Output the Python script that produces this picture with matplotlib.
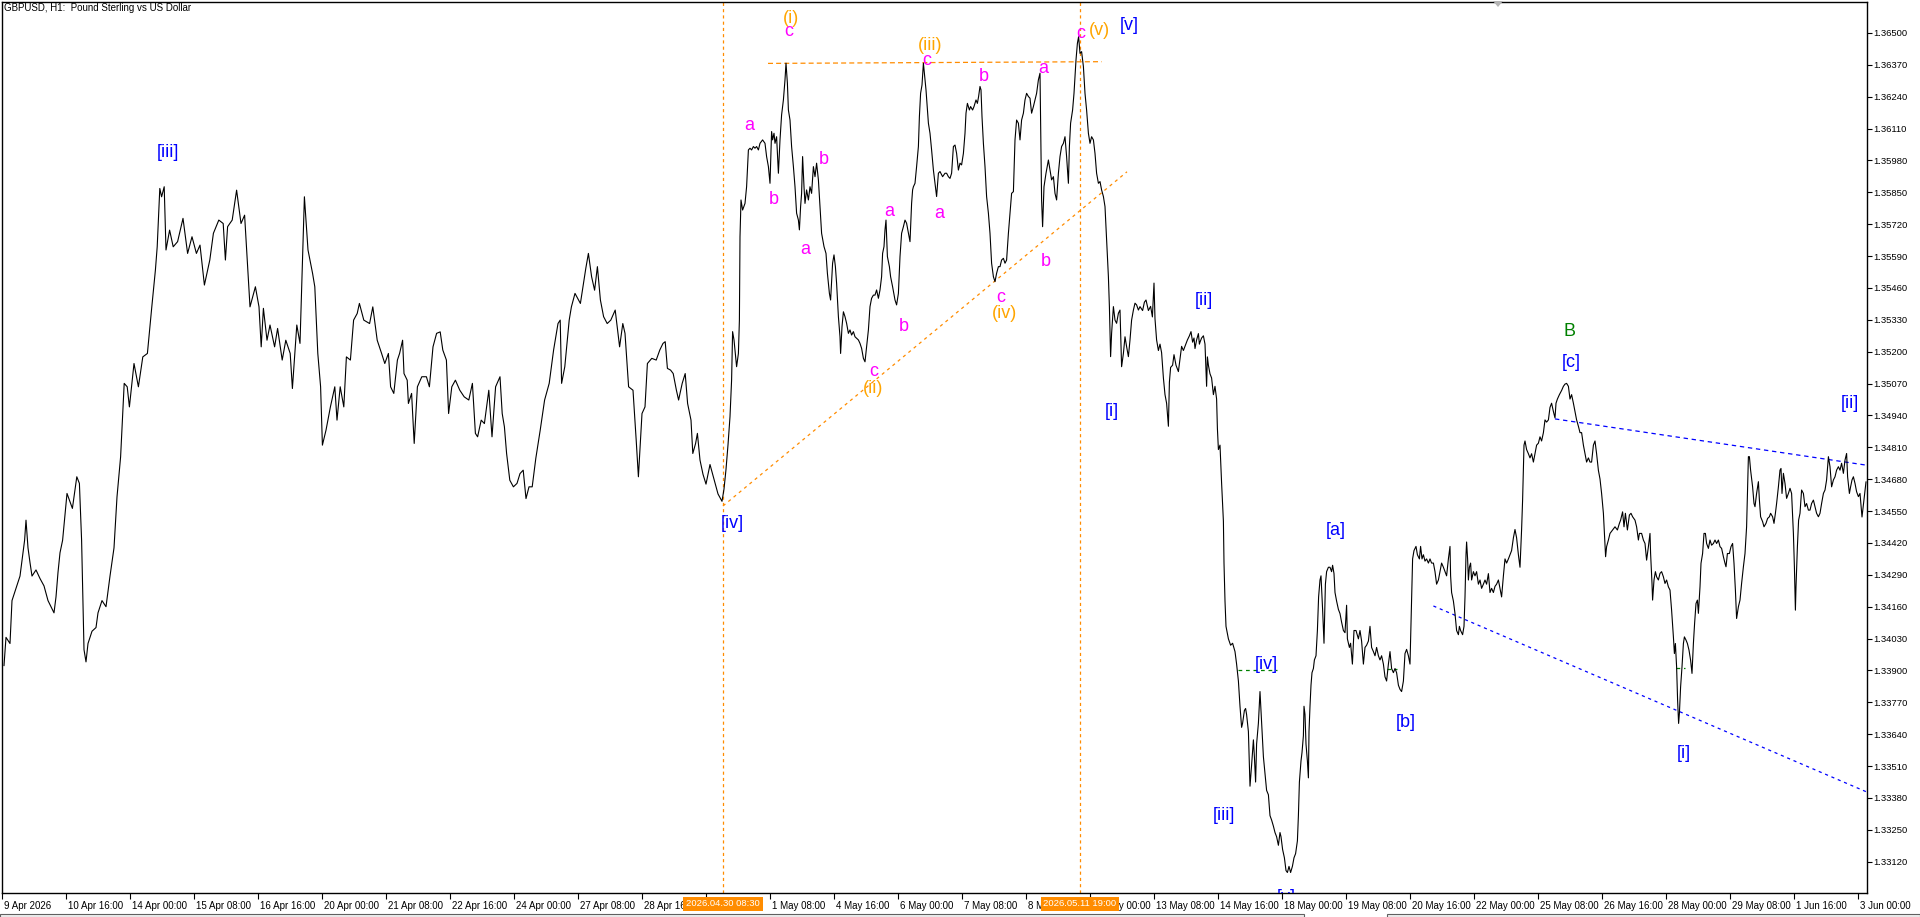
import matplotlib
matplotlib.use("Agg")
import matplotlib.pyplot as plt
from matplotlib.patches import Rectangle, Polygon
import matplotlib.transforms as mtransforms

# ---------------- data ----------------
title = "GBPUSD, H1:  Pound Sterling vs US Dollar"

# hourly bar index (0 = 9 Apr 2026 08:00) and close price
bar_pos = [
    1, 2, 4, 5, 7, 9, 11.3, 12, 13, 14, 15, 17, 19, 21, 23, 26, 27, 28, 29, 30.3,
    32.5, 35.2, 37.4, 38.7, 39.8, 41, 42, 43, 45, 47, 48, 50, 52, 54, 56,
    57.5, 59.3, 61.1, 62.6, 63.7, 66, 68.2, 70.4, 72.7, 74.9, 76.7, 77.6, 78.9, 79.8, 81.1,
    82, 83.8, 85.6, 87.8, 90.5, 92.8, 95, 97.2, 99, 101.2, 103.9, 105.7, 108.4, 110.6, 111.7,
    112.8, 115.1, 117.3, 119.5, 121.3, 122.9, 124, 126.7, 128.5, 129.6, 130.7, 132.5, 134, 136.3,
    137.8, 140.1, 141.9, 144.1, 145.2, 147.4, 149, 151.2, 153, 155.3, 156.4, 157.9, 159.3, 160.2,
    162, 164.2, 166.4, 167.5, 169.1, 170.9, 172.2, 174.2, 175.8, 177.6, 178.7, 180.9, 183.8, 185.4,
    187.6, 189.8, 191.4, 193.2, 194.3, 195.9, 197.7, 198.8, 200.3, 201, 202.6, 203.2, 204.8, 206.1,
    207.7, 209.9, 212.2, 213.7, 215.5, 217.3, 219.1, 220.4, 222.2, 223.3, 224.9, 226.7, 228.9, 231.1,
    233.4, 235.2, 236.7, 237.8, 239.6, 241.2, 243.4, 245, 246.8, 249, 250.1, 251.2, 252.3, 253.9,
    255.7, 257.5, 259, 260.6, 262, 263.5, 265.1, 266.9, 269.1, 271.3, 273.6, 275.8, 278, 279.1,
    279.8, 281.4, 283.6, 284.7, 286.5, 289.2, 291.9, 293.2, 294.8, 296.3, 297.7, 299.2, 300.8, 302.6,
    304.4, 306.6, 308.8, 310.4, 311.5, 313.3, 315.5, 317.1, 318.2, 320, 321.5, 322.7, 324.9, 327.1,
    328.9, 330.5, 331.6, 332.7, 334.3, 335.6, 337.2, 338.3, 340.1, 341.6, 342.8, 344.5, 345.4, 346.8,
    347.7, 349, 350.5, 352, 354, 356, 358, 360, 361, 362, 363,
    364, 364.8, 365.3, 366, 367.3, 368.2, 368.7, 369, 369.5, 370.3, 371.5, 372.3, 373.2, 374,
    374.8, 375.7, 376.5, 377.3, 378.2, 379, 380.3, 381.5, 382.3, 383.2, 384, 384.8, 385.3, 386,
    386.5, 387.3, 388.2, 389, 389.8, 390.7, 391.5, 392, 392.7, 393.2, 394, 394.8, 395.7, 396.5,
    397.3, 398.2, 398.7, 399.3, 399.8, 400.3, 401, 401.5, 402.3, 403.2, 404, 404.8, 405.7, 406.5,
    407.3, 408.2, 409, 409.8, 411, 412, 412.7, 413.7, 414.3, 415.3, 416, 416.7, 417.3, 418.2,
    419, 419.3, 420, 420.7, 421.5, 422.3, 423.2, 424, 424.8, 425.7, 426.5, 427.3, 428.2, 429,
    429.8, 430.7, 431.5, 432.3, 433.2, 434, 434.8, 435.7, 436.5, 437.3, 438.2, 439, 439.8, 440.3,
    441, 441.5, 442, 442.7, 443.7, 444.3, 445.3, 446.5, 447.3, 448.2, 449, 449.8, 450.7, 451.5,
    452.3, 453.2, 454, 454.8, 455.3, 455.7, 456.5, 457.3, 458.2, 458.7, 459.3, 460, 460.7, 461.2,
    462, 462.7, 463.2, 464, 464.8, 465.7, 466.5, 467.3, 468.2, 469, 470.3, 471.5, 472.3, 473.2,
    474, 474.8, 475.7, 476.5, 477.3, 478.2, 479, 479.8, 480.7, 481.5, 482, 482.7, 483.7, 484.3,
    485.3, 486, 487, 487.7, 488.3, 489, 489.5, 490, 490.7, 491.5, 492.3, 493.2, 494, 494.8,
    495.7, 496.5, 497.3, 498.2, 499, 499.8, 500.7, 501.5, 502.3, 503.2, 504, 504.8, 505.7, 506.5,
    507.3, 508.2, 509, 509.8, 510.7, 511.5, 512.3, 513.2, 514, 514.8, 515.7, 516.5, 517.3, 518.2,
    519, 519.8, 520.3, 521, 522, 523.2, 524, 524.8, 525.7, 526.5, 527.3, 528.2, 529, 529.8,
    530.7, 531.5, 532.3, 533.2, 533.7, 534.3, 535.3, 536, 537, 537.7, 538.3, 539, 539.8, 540.7,
    541.5, 542.3, 543.2, 544, 544.8, 545.7, 546.5, 547.3, 548.2, 549, 549.8, 550.7, 551.5, 552.3,
    553.2, 553.7, 554.3, 554.8, 555.7, 556.5, 557.3, 558.2, 559, 559.8, 560.7, 561.5, 562.3, 563.2,
    564, 564.8, 565.7, 566.5, 567.3, 568.2, 569,
    570.3, 571.2, 572, 573.2, 574.3, 575.2, 576, 576.5, 577.3, 578.2, 579, 579.8, 580.7, 581.5,
    582.3, 583.2, 583.7, 584.3, 585.3, 586, 587, 588.2, 589, 589.8, 590.7, 591.5, 592.7, 593.7,
    594.5, 595.3, 596, 596.5, 597.3, 598.2, 598.7, 599, 599.8, 600.7, 601.5, 602.3, 602.7, 603.2,
    604, 604.8, 605.7, 606.5, 607.3, 607.7, 608.2, 609, 609.8, 610.7, 611, 611.5, 612, 613.2,
    614.3, 615.3, 616.5, 617.3, 618.2, 619, 619.8, 620.3, 621.2, 621.8, 622.3, 623.2, 624, 624.8,
    625.7, 626.2, 626.8, 627.3, 628.2, 629, 629.8, 630.7, 631.5, 632.3, 633.2, 634, 634.8, 635.7,
    636.5, 637.3, 638.2, 639, 639.5, 640.3, 641.2, 642, 642.7, 643.5, 644.3, 645.2, 646, 646.8,
    647.7, 648.2, 648.7, 649, 649.5, 650, 650.7, 651, 651.5, 652, 652.7, 653.2, 653.5, 654,
    654.5, 655, 655.7, 656.2, 657, 657.7, 658.3, 659, 659.5, 660.3, 661, 661.7, 662.3, 663.2,
    664, 664.8, 665.3, 666, 666.5, 667.3, 668.2, 669, 669.8, 670.7, 671.5, 672.3, 672.7, 673.2,
    673.7, 674.3, 675.2, 676, 677, 678.2, 679, 679.8, 680.7, 681.5, 682.3, 683.2, 684, 684.8,
    685.7, 686.5, 687.3, 688.2, 689, 689.8, 690.7, 691.5, 692.3, 693.2, 694, 694.8, 695.7, 696.5,
    697.3, 698.2, 699, 699.8, 700.7, 701.5, 702.3, 703.2, 704, 704.8, 705.3, 706, 707, 707.7,
    708.7, 709.3, 710, 710.7, 711.5, 712.3, 713.2, 714, 714.8, 715.7, 716.5, 717.3, 718.2, 719,
    719.8, 720.7, 721.5, 722.3, 723.2, 724, 724.3, 724.8, 725.7, 726.5, 727.3, 728.2, 728.7, 729.3,
    730.3, 731, 731.5, 732, 732.3, 732.8, 733.2, 733.7, 734.3, 734.8, 735.7, 736.5, 737.3, 738.2,
    739, 739.8, 740.7, 741.5, 742.3, 743.2, 744, 744.8, 745.7, 746.5, 747.3, 748.2, 749, 749.8,
    750.7, 751.5, 752.3, 753.2, 754, 754.8, 755.7, 756.5, 757.3, 758.2, 759, 759.8, 760.3, 761,
    761.5, 762.3, 763.2, 764, 764.8, 765.7, 766.5, 767.3, 768.2, 769, 769.8, 770.7, 771.5, 772.3,
    773.2, 774, 774.8, 775.7, 776.5, 777, 777.7, 778.7, 779.8, 780.7, 781.5, 782.3, 783.2, 784,
    784.8, 785.7, 786.5, 787.3, 788.2, 789, 789.8, 790.7, 791.5, 792.3, 793.2, 794, 794.8, 795.7,
    796.5, 797.3, 798.2, 799,
    799.8, 800.7, 801.2, 801.8, 802.3, 803.2, 804, 805.3, 806.5, 807.7, 808.7, 809.3, 810.3, 811,
    811.7, 812.7, 813.7, 814.5, 815.3, 816.5, 817.3, 818.2, 818.7, 819.8, 820.7, 821.5, 822.3, 823.2,
    824, 824.3, 825, 825.3, 826, 826.7, 827.3, 828.2, 829, 829.8, 830.7, 831.5, 832.3, 833.2,
    834, 834.8, 835.7, 836.2, 836.7, 837.3, 837.8, 838.3, 838.7, 839.3, 840, 840.7, 841.2, 842,
    842.7, 843.5, 844.3, 845, 845.7, 846.3, 847, 847.7, 848.2, 849, 849.5, 850.3, 851, 851.7,
    852.3, 853.2, 854, 854.8, 855.7, 856.5, 857.3, 858.2, 859, 859.8, 860.7, 861.5, 862, 862.7,
    863.7, 864.5, 865.3, 866, 866.7, 867.3, 868.2, 869, 869.8, 870.7, 871.5, 872.3, 873.2, 873.7,
    874.3, 875.3, 876, 876.5, 877.3, 878.2, 878.7, 879.3, 880.3, 881, 882, 882.8, 883.7, 884.3,
    885.3, 886, 886.7, 887.3, 888.2, 889, 889.5, 890, 890.7, 891.5, 892.3, 893.2, 894, 894.8,
    895.7, 896.2, 896.7, 897, 897.7, 898.3, 899, 899.8, 900.7, 901.5, 902.3, 903.2, 904, 904.8,
    905.7, 906.5, 907.3, 908.2, 909, 909.8, 910.7, 911.5, 912.3, 913.2, 914, 914.8, 915.7, 916.5,
    917.3, 918.2, 919, 919.8, 920.7, 921.5, 922.3, 922.8, 923.7, 924.3, 925, 925.7, 926.5, 927.3,
    928.2, 929, 930, 932,
]

close = [
    1.33920, 1.34035, 1.34010, 1.34185, 1.34235, 1.34285, 1.34431, 1.34513, 1.34400, 1.34340,
    1.34285, 1.34310, 1.34275, 1.34245, 1.34185, 1.34135, 1.34200, 1.34300, 1.34380, 1.34431,
    1.34622, 1.34561, 1.34690, 1.34663, 1.34431, 1.33985, 1.33935, 1.34010, 1.34060, 1.34075,
    1.34135, 1.34185, 1.34160, 1.34285, 1.34400,
    1.34608, 1.34771, 1.35071, 1.35057, 1.34975, 1.35152, 1.35057, 1.35179, 1.35193, 1.35383,
    1.35533, 1.35628, 1.35866, 1.35832, 1.35873, 1.35615, 1.35696, 1.35628, 1.35649, 1.35744,
    1.35601, 1.35669, 1.35601, 1.35635, 1.35472, 1.35574, 1.35683, 1.35737, 1.35723, 1.35574,
    1.35710, 1.35737, 1.35859, 1.35723, 1.35757, 1.35533, 1.35383, 1.35465, 1.35383, 1.35220,
    1.35377, 1.35247, 1.35309, 1.35220, 1.35295, 1.35166, 1.35247, 1.35193, 1.35050, 1.35309,
    1.35234, 1.35832, 1.35615, 1.35519, 1.35465, 1.35193, 1.35057, 1.34819, 1.34880, 1.34975,
    1.35057, 1.34921, 1.35057, 1.34975, 1.35179, 1.35166, 1.35329, 1.35356, 1.35397, 1.35329,
    1.35315, 1.35383, 1.35247, 1.35193, 1.35152, 1.35193, 1.35057, 1.35030, 1.35166, 1.35193,
    1.35247, 1.35111, 1.35084, 1.34989, 1.35030, 1.34826, 1.35057, 1.35098, 1.35098, 1.35057,
    1.35220, 1.35275, 1.35281, 1.35207, 1.35166, 1.34948, 1.35057, 1.35084, 1.35043, 1.35016,
    1.35003, 1.35071, 1.34867, 1.34853, 1.34921, 1.34907, 1.35043, 1.34853, 1.35057, 1.35098,
    1.34948, 1.34894, 1.34785, 1.34676, 1.34649, 1.34663, 1.34703, 1.34717, 1.34601, 1.34649,
    1.34649, 1.34765, 1.34880, 1.35003, 1.35071, 1.35207, 1.35315, 1.35329, 1.35071, 1.35139,
    1.35329, 1.35383, 1.35438, 1.35397, 1.35540, 1.35601, 1.35506, 1.35451, 1.35547, 1.35411,
    1.35343, 1.35315, 1.35329, 1.35370, 1.35220, 1.35315, 1.35275, 1.35057, 1.35043, 1.34839,
    1.34690, 1.34948, 1.34975, 1.35152, 1.35173, 1.35166, 1.35207, 1.35234, 1.35241, 1.35132,
    1.35125, 1.35111, 1.35043, 1.35003, 1.35071, 1.35111, 1.34989, 1.34921, 1.34785, 1.34826,
    1.34867, 1.34758, 1.34700, 1.34660, 1.34740, 1.34680, 1.34620, 1.34590, 1.34640, 1.34720,
    1.34820,
    1.34935, 1.35085, 1.35282, 1.35248, 1.35139, 1.35193, 1.35329, 1.35669, 1.35819, 1.35778,
    1.35805, 1.35873, 1.36023, 1.36030, 1.36023, 1.36037, 1.36030, 1.36037, 1.36023, 1.36050,
    1.36064, 1.36050, 1.35996, 1.35955, 1.35887, 1.36098, 1.36064, 1.36091, 1.36050, 1.36077,
    1.35928, 1.36064, 1.36166, 1.36227, 1.36309, 1.36377, 1.36295, 1.36186, 1.36145, 1.36037,
    1.35955, 1.35873, 1.35765, 1.35737, 1.35697, 1.35792, 1.35846, 1.35996, 1.35873, 1.35805,
    1.35860, 1.35819, 1.35873, 1.35846, 1.35955, 1.35914, 1.35969, 1.35901, 1.35792, 1.35683,
    1.35629, 1.35601, 1.35520, 1.35438, 1.35411, 1.35561, 1.35595, 1.35547, 1.35479, 1.35343,
    1.35261, 1.35193, 1.35302, 1.35363, 1.35343, 1.35316, 1.35275, 1.35289, 1.35268, 1.35282,
    1.35261, 1.35255, 1.35248, 1.35234, 1.35214, 1.35173, 1.35159, 1.35221, 1.35289, 1.35384,
    1.35418, 1.35431, 1.35431, 1.35452, 1.35418, 1.35452, 1.35506, 1.35601, 1.35629, 1.35697,
    1.35737, 1.35588, 1.35547, 1.35506, 1.35465, 1.35411, 1.35391, 1.35438, 1.35588, 1.35683,
    1.35710, 1.35737, 1.35724, 1.35683, 1.35649, 1.35805, 1.35860, 1.35873, 1.35887, 1.35955,
    1.36037, 1.36159, 1.36254, 1.36288, 1.36377, 1.36336, 1.36268, 1.36186, 1.36132, 1.36091,
    1.36023, 1.35941, 1.35887, 1.35833, 1.35928, 1.35935, 1.35914, 1.35928, 1.35928, 1.35914,
    1.35907, 1.35928, 1.36037, 1.36043, 1.36009, 1.35941, 1.35969, 1.35962, 1.36009, 1.36091,
    1.36173, 1.36213, 1.36186, 1.36200, 1.36186, 1.36200, 1.36227, 1.36213, 1.36241, 1.36282,
    1.36268, 1.36159, 1.36050, 1.35955, 1.35833, 1.35765, 1.35683, 1.35561, 1.35506, 1.35486,
    1.35520, 1.35547, 1.35547, 1.35574, 1.35581, 1.35561, 1.35574, 1.35683, 1.35765, 1.35846,
    1.35853, 1.36064, 1.36145, 1.36132, 1.36064, 1.36145, 1.36173, 1.36227, 1.36254, 1.36241,
    1.36234, 1.36173, 1.36200, 1.36227, 1.36254, 1.36309, 1.36336, 1.35819, 1.35710, 1.35873,
    1.35928, 1.35982, 1.35941, 1.35901, 1.35914, 1.35846, 1.35819, 1.35928, 1.35996, 1.36037,
    1.36050, 1.36077, 1.35996, 1.35887, 1.36037, 1.36132, 1.36186, 1.36254, 1.36390, 1.36458,
    1.36485, 1.36417, 1.36424, 1.36363, 1.36254, 1.36186, 1.36091, 1.36050, 1.36077, 1.36064,
    1.36009, 1.35928, 1.35887, 1.35894, 1.35860, 1.35833, 1.35792, 1.35656, 1.35506, 1.35384,
    1.35180, 1.35275, 1.35384, 1.35329, 1.35316, 1.35357, 1.35370, 1.35139, 1.35193, 1.35261,
    1.35221, 1.35180, 1.35248, 1.35329, 1.35370, 1.35398, 1.35391, 1.35370, 1.35384,
    1.35368, 1.35402, 1.35411, 1.35368, 1.35385, 1.35342, 1.35480, 1.35334, 1.35248, 1.35205,
    1.35231, 1.35196, 1.35093, 1.35025, 1.34990, 1.34896, 1.35076, 1.35136, 1.35145, 1.35188,
    1.35145, 1.35119, 1.35171, 1.35222, 1.35205, 1.35222, 1.35248, 1.35265, 1.35282, 1.35239,
    1.35256, 1.35213, 1.35248, 1.35274, 1.35231, 1.35239, 1.35256, 1.35265, 1.35231, 1.35059,
    1.35179, 1.35145, 1.35110, 1.35093, 1.35025, 1.35059, 1.35007, 1.34887, 1.34801, 1.34819,
    1.34664, 1.34509, 1.34338, 1.34183, 1.34080, 1.34029, 1.34003, 1.34011, 1.33977, 1.33926,
    1.33857, 1.33754, 1.33668, 1.33685, 1.33737, 1.33745, 1.33720, 1.33651, 1.33428, 1.33514,
    1.33617, 1.33548, 1.33445, 1.33600, 1.33685, 1.33814, 1.33685, 1.33548, 1.33479, 1.33411,
    1.33393, 1.33308, 1.33290, 1.33265, 1.33239, 1.33222, 1.33187, 1.33239, 1.33222, 1.33170,
    1.33136, 1.33084, 1.33076, 1.33101, 1.33076, 1.33101, 1.33136, 1.33153, 1.33205, 1.33308,
    1.33445, 1.33479, 1.33531, 1.33565, 1.33634, 1.33754, 1.33720, 1.33600, 1.33531, 1.33462,
    1.33651, 1.33754, 1.33840, 1.33891, 1.33908, 1.33943, 1.33960, 1.34063, 1.34200, 1.34269,
    1.34286, 1.34149, 1.34011, 1.34252, 1.34303, 1.34321, 1.34321, 1.34303, 1.34329, 1.34295,
    1.34218, 1.34183, 1.34149, 1.34132, 1.34097, 1.34063, 1.34054, 1.34166, 1.34029, 1.34011,
    1.33994, 1.34011, 1.33926, 1.34063, 1.34063, 1.34029, 1.34063, 1.34020, 1.33926, 1.33994,
    1.34003, 1.34020, 1.34080, 1.33994, 1.33977, 1.33960, 1.33994, 1.33960, 1.33943, 1.33960,
    1.33926, 1.33874, 1.33857, 1.33926, 1.33977, 1.33908, 1.33891, 1.33908, 1.33891, 1.33840,
    1.33823, 1.33814, 1.33857, 1.33969, 1.33986, 1.33960, 1.33926, 1.34200, 1.34355, 1.34389,
    1.34406, 1.34372, 1.34355, 1.34406, 1.34355, 1.34372, 1.34346, 1.34355, 1.34338, 1.34355,
    1.34338, 1.34338, 1.34303, 1.34252, 1.34269, 1.34303, 1.34338, 1.34321, 1.34303, 1.34286,
    1.34355, 1.34406, 1.34286, 1.34218, 1.34183, 1.34132, 1.34063, 1.34046, 1.34080, 1.34063,
    1.34046, 1.34080, 1.34200, 1.34372, 1.34424, 1.34355, 1.34269, 1.34321, 1.34338, 1.34269,
    1.34303, 1.34286, 1.34303, 1.34252, 1.34269, 1.34235, 1.34252, 1.34269, 1.34252, 1.34295,
    1.34218, 1.34235, 1.34218, 1.34243, 1.34252, 1.34269, 1.34235, 1.34200, 1.34286, 1.34355,
    1.34338, 1.34355, 1.34372, 1.34389, 1.34441, 1.34475, 1.34441, 1.34372, 1.34321, 1.34475,
    1.34595, 1.34819, 1.34836, 1.34801, 1.34784, 1.34767, 1.34784, 1.34750, 1.34784, 1.34819,
    1.34827, 1.34853, 1.34836, 1.34870, 1.34922, 1.34913, 1.34922, 1.34973, 1.34990, 1.34956,
    1.34930, 1.34990, 1.35007, 1.35025, 1.35042, 1.35059, 1.35068, 1.35071, 1.35059, 1.35007,
    1.35025, 1.34990, 1.34956, 1.34922, 1.34896, 1.34870, 1.34870, 1.34819, 1.34784, 1.34750,
    1.34767, 1.34750, 1.34750, 1.34819, 1.34836, 1.34784, 1.34716, 1.34681,
    1.34622, 1.34541, 1.34459, 1.34364, 1.34405, 1.34432, 1.34459, 1.34473, 1.34486, 1.34473,
    1.34500, 1.34513, 1.34547, 1.34486, 1.34541, 1.34473, 1.34534, 1.34541, 1.34527, 1.34513,
    1.34486, 1.34432, 1.34459, 1.34459, 1.34432, 1.34418, 1.34350, 1.34405, 1.34459, 1.34377,
    1.34255, 1.34187, 1.34269, 1.34303, 1.34282, 1.34269, 1.34296, 1.34303, 1.34282, 1.34255,
    1.34269, 1.34241, 1.34228, 1.34146, 1.34037, 1.33969, 1.34010, 1.33915, 1.33779, 1.33684,
    1.33725, 1.33833, 1.33915, 1.34010, 1.34037, 1.34024, 1.34010, 1.33983, 1.33942, 1.33888,
    1.34010, 1.34092, 1.34173, 1.34187, 1.34133, 1.34241, 1.34337, 1.34377, 1.34459, 1.34459,
    1.34418, 1.34398, 1.34432, 1.34411, 1.34418, 1.34432, 1.34418, 1.34432, 1.34405, 1.34398,
    1.34364, 1.34337, 1.34323, 1.34377, 1.34377, 1.34405, 1.34418, 1.34337, 1.34228, 1.34112,
    1.34160, 1.34187, 1.34255, 1.34323, 1.34377, 1.34486, 1.34772, 1.34772, 1.34717, 1.34649,
    1.34581, 1.34568, 1.34622, 1.34670, 1.34595, 1.34527, 1.34507, 1.34486, 1.34500, 1.34520,
    1.34527, 1.34541, 1.34527, 1.34500, 1.34541, 1.34581, 1.34649, 1.34717, 1.34724, 1.34622,
    1.34704, 1.34663, 1.34602, 1.34622, 1.34643, 1.34622, 1.34459, 1.34323, 1.34146, 1.34241,
    1.34405, 1.34513, 1.34541, 1.34636, 1.34622, 1.34568, 1.34581, 1.34554, 1.34554, 1.34581,
    1.34595, 1.34568, 1.34541, 1.34527, 1.34541, 1.34581, 1.34622, 1.34636, 1.34677, 1.34772,
    1.34731, 1.34649, 1.34677, 1.34690, 1.34717, 1.34731, 1.34717, 1.34745, 1.34704, 1.34758,
    1.34785, 1.34690, 1.34622, 1.34649, 1.34677, 1.34690, 1.34663, 1.34629, 1.34609, 1.34622,
    1.34526, 1.34669,
]

# x-axis labels every 32 hourly bars (the 30 Apr label is hidden under the marker box)
xtick_bars = [0] + [32 * k for k in range(1, 30)]
xtick_labels = ["9 Apr 2026", "10 Apr 16:00", "14 Apr 00:00", "15 Apr 08:00", "16 Apr 16:00",
                "20 Apr 00:00", "21 Apr 08:00", "22 Apr 16:00", "24 Apr 00:00", "27 Apr 08:00",
                "28 Apr 16:00", "", "1 May 08:00", "4 May 16:00", "6 May 00:00",
                "7 May 08:00", "8 May 16:00", "12 May 00:00", "13 May 08:00", "14 May 16:00",
                "18 May 00:00", "19 May 08:00", "20 May 16:00", "22 May 00:00", "25 May 08:00",
                "26 May 16:00", "28 May 00:00", "29 May 08:00", "1 Jun 16:00", "3 Jun 00:00"]
ytick_vals = [round(1.33120 + 0.0013 * k, 5) for k in range(27)]

# vertical markers (bar, label)
vlines = [(360.5, "2026.04.30 08:30"), (539, "2026.05.11 19:00")]

# trend lines: (bar0, price0, bar1, price1)
orange_top = (383, 1.36376, 549.8, 1.36383)
orange_diag = (360.5, 1.34571, 562.5, 1.35934)
blue_upper = (776.5, 1.34926, 932.5, 1.34737)
blue_lower = (715.7, 1.34163, 932.5, 1.33404)
green_bits = [(618, 637.5, 1.33902), (692.3, 697.3, 1.33906), (837, 841.5, 1.33910)]

# wave labels: text, bar, price, colour
BLUE, MAG, ORG, GRN = "#0000FF", "#FF00FF", "#FFA500", "#008000"
wave_labels = [
    ("[iii]", 83, 1.36011, BLUE), ("[iv]", 365, 1.34501, BLUE),
    ("(i)", 394.3, 1.36560, ORG), ("c", 393.5, 1.36505, MAG),
    ("a", 373.5, 1.36122, MAG), ("b", 385.7, 1.35819, MAG),
    ("b", 410.7, 1.35986, MAG), ("a", 401.5, 1.35615, MAG),
    ("c", 435.7, 1.35119, MAG), ("(ii)", 435.3, 1.35050, ORG),
    ("a", 443.7, 1.35771, MAG), ("b", 450.7, 1.35302, MAG),
    ("(iii)", 464.3, 1.36451, ORG), ("c", 462.3, 1.36387, MAG),
    ("a", 468.7, 1.35765, MAG), ("b", 490.7, 1.36322, MAG),
    ("c", 499.3, 1.35420, MAG), ("(iv)", 501.5, 1.35357, ORG),
    ("a", 520.7, 1.36356, MAG), ("b", 521.8, 1.35567, MAG),
    ("c", 539.5, 1.36499, MAG), ("(v)", 548.5, 1.36512, ORG),
    ("[v]", 563.5, 1.36529, BLUE), ("[i]", 555, 1.34958, BLUE),
    ("[ii]", 601, 1.35408, BLUE), ("[iii]", 611, 1.33308, BLUE),
    ("[iv]", 632.3, 1.33926, BLUE), ("[v]", 642.3, 1.32972, BLUE),
    ("[a]", 666.8, 1.34470, BLUE), ("[b]", 701.8, 1.33686, BLUE),
    ("B", 784, 1.35282, GRN), ("[c]", 784.5, 1.35155, BLUE),
    ("[i]", 841, 1.33562, BLUE), ("[ii]", 924, 1.34990, BLUE),
]

# ---------------- layout ----------------
W, H, DPI = 1920, 917, 100
PX_PER_PRICE = 24518.0
FONT = "Liberation Sans"
plt.rcParams["font.family"] = [FONT, "DejaVu Sans"]

fig = plt.figure(figsize=(W / DPI, H / DPI), dpi=DPI)
fig.patch.set_facecolor("white")
L, R, T, B = 1.5, 1867, 1.5, 893
ax = fig.add_axes([L / W, 1 - B / H, (R - L) / W, (B - T) / H])
ax.set_facecolor("white")

ax.set_xlim((L - 2) / 2, (R - 2) / 2)
ax.set_ylim(1.365 - (B - 33) / PX_PER_PRICE, 1.365 + (33 - T) / PX_PER_PRICE)

for s in ax.spines.values():
    s.set_color("black")
    s.set_linewidth(1.0)

# price line
ax.plot(bar_pos, close, color="black", lw=0.8, zorder=3)

# vertical dotted lines
for vb, _ in vlines:
    ax.axvline(vb, color="#FF8C00", lw=0.9, dashes=(2.5, 2.5), zorder=2)

def seg(tl, color, dashes, lw=0.9):
    ax.plot([tl[0], tl[2]], [tl[1], tl[3]], color=color, lw=lw, dashes=dashes, zorder=2)

seg(orange_top, "#FF8C00", (4, 2.5))
seg(orange_diag, "#FF8C00", (2.5, 3))
seg(blue_upper, "#0000FF", (3.5, 3))
seg(blue_lower, "#0000FF", (2.5, 3))
for b0, b1, p in green_bits:
    ax.plot([b0, b1], [p, p], color=GRN, lw=0.9, dashes=(3, 3), zorder=2)

for txt, bx, py, col in wave_labels:
    ax.text(bx, py, txt, color=col, fontsize=13, ha="center", va="center",
            family=FONT, zorder=5, clip_on=True)

# ticks
ax.yaxis.tick_right()
ax.set_yticks(ytick_vals)
ax.set_yticklabels([f"{v:.5f}" for v in ytick_vals])
ax.set_xticks(xtick_bars)
ax.set_xticklabels(xtick_labels)
ax.tick_params(axis="y", direction="out", length=3.5, width=0.8, pad=1.2,
               labelsize=6.8, colors="black")
ax.tick_params(axis="x", direction="out", length=4, width=0.8, pad=1.5,
               labelsize=7, colors="black")
offset = mtransforms.ScaledTranslation(1.5 / 72, 0, fig.dpi_scale_trans)
for lab in ax.get_xticklabels():
    lab.set_ha("left")
    lab.set_transform(lab.get_transform() + offset)

# title
fig.text(4 / W, 1 - 8 / H, title, fontsize=7, ha="left", va="center",
         color="black", family=FONT)

# highlighted date boxes on the time axis
for vb, lab in vlines:
    xf = 2 + 2 * vb
    fig.text(xf / W, 1 - 904 / H, lab, fontsize=6.8, color="white", ha="center",
             va="center", family=FONT, zorder=10,
             bbox=dict(boxstyle="square,pad=0.28", fc="#FF8C00", ec="none"))

# small grey shift marker at top
fig.patches.append(Polygon([[1493 / W, 1 - 1 / H], [1503 / W, 1 - 1 / H], [1498 / W, 1 - 7 / H]],
                           closed=True, transform=fig.transFigure, fc="#B4B4B4", ec="none"))

# bottom tab strip
fig.patches.append(Rectangle((0, 0), 1304 / W, 3 / H, transform=fig.transFigure,
                             fc="#F0F0F0", ec="#606060", lw=0.8))
fig.patches.append(Rectangle((1387 / W, 0), (W - 1387) / W, 3 / H, transform=fig.transFigure,
                             fc="#F0F0F0", ec="#606060", lw=0.8))

fig.savefig("out.png", dpi=DPI, facecolor="white")
